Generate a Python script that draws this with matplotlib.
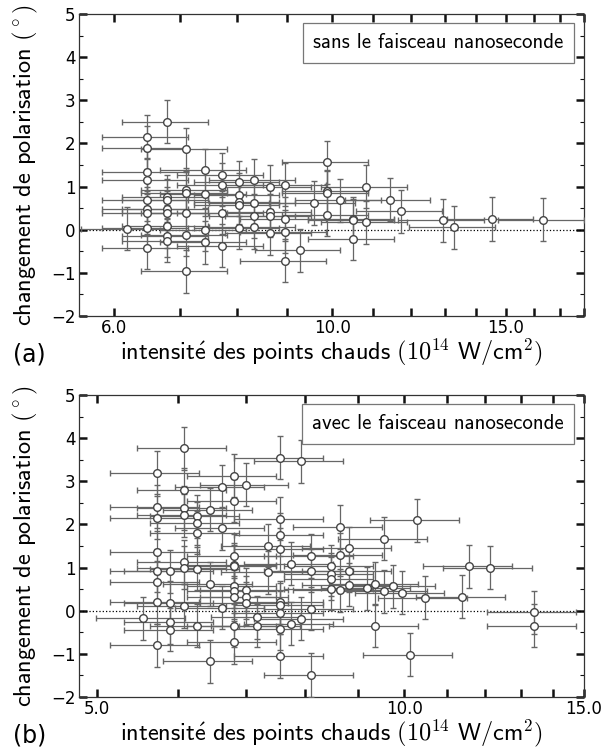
import matplotlib
matplotlib.use("Agg")
import matplotlib.pyplot as plt
from matplotlib.ticker import FixedLocator, FuncFormatter, MultipleLocator, NullLocator

plt.rcParams['font.family'] = ['DejaVu Sans']
plt.rcParams['mathtext.fontset'] = 'cm'

# --- panel (a): sans le faisceau nanoseconde ---
xa = [6.18, 6.48, 6.48, 6.48, 6.48, 6.48, 6.48, 6.48, 6.48, 6.48,
      6.79, 6.79, 6.79, 6.79, 6.79, 6.79, 6.79, 6.79,
      7.10, 7.10, 7.10, 7.10, 7.10, 7.10,
      7.42, 7.42, 7.42, 7.42,
      7.72, 7.72, 7.72, 7.72,
      8.03, 8.03, 8.03, 8.03, 8.03,
      8.33, 8.33, 8.33, 8.33,
      8.65, 8.65, 8.65, 8.65,
      8.95, 8.95, 8.95, 8.95,
      9.26, 9.58, 9.88, 9.88, 9.88, 9.88,
      10.18, 10.49, 10.49, 10.49, 10.82, 10.82,
      11.43, 11.74, 12.96, 13.28, 14.51, 16.36]
ya = [0.02, 2.15, 1.90, 1.33, 1.16, 0.70, 0.49, 0.39, 0.05, -0.42,
      2.50, 0.77, 0.68, 0.49, 0.39, 0.08, -0.14, -0.25,
      1.87, 0.93, 0.85, 0.39, -0.12, -0.96,
      1.38, 0.83, 0.00, -0.29,
      1.27, 1.04, 0.39, -0.37,
      1.10, 0.81, 0.64, 0.57, 0.05,
      1.15, 0.63, 0.32, 0.06,
      0.99, 0.41, 0.33, -0.08,
      1.04, 0.25, -0.05, -0.72,
      -0.48, 0.62, 1.56, 0.89, 0.86, 0.35,
      0.68, 0.25, 0.22, -0.21, 1.00, 0.17,
      0.70, 0.43, 0.22, 0.06, 0.25, 0.23]

# --- panel (b): avec le faisceau nanoseconde ---
xb = [5.54,
      5.72, 5.72, 5.72, 5.72, 5.72, 5.72, 5.72, 5.72,
      5.90, 5.90, 5.90, 5.90,
      6.08, 6.08, 6.08, 6.08, 6.08, 6.08, 6.08,
      6.26, 6.26, 6.26, 6.26, 6.26,
      6.45, 6.45, 6.45,
      6.63, 6.63, 6.63,
      6.81, 6.81, 6.81, 6.81, 6.81, 6.81, 6.81, 6.81, 6.81, 6.81,
      7.00, 7.00, 7.00, 7.00,
      7.18, 7.18,
      7.35, 7.35,
      7.56, 7.56, 7.56, 7.56, 7.56, 7.56, 7.56, 7.56, 7.56,
      7.74, 7.74,
      7.92, 7.92,
      8.10, 8.10, 8.10, 8.10,
      8.47, 8.47, 8.47, 8.47,
      8.65, 8.65, 8.65,
      8.83, 8.83, 8.83,
      9.20, 9.37, 9.37, 9.56, 9.56, 9.75, 9.94,
      10.12, 10.29, 10.48, 11.40, 11.58, 12.12, 13.40, 13.40]
yb = [-0.18,
      3.20, 2.41, 2.16, 1.35, 0.93, 0.66, 0.20, -0.80,
      0.91, 0.19, -0.27, -0.44,
      3.77, 2.81, 2.38, 2.21, 1.13, 1.00, 0.11,
      2.19, 2.03, 1.81, 0.97, -0.35,
      2.34, 0.62, -1.17,
      2.87, 1.91, 0.07,
      3.13, 2.55, 1.27, 1.07, 1.03, 0.57, 0.45, 0.31, -0.35, -0.73,
      2.92, 0.49, 0.31, 0.17,
      -0.15, -0.35,
      1.51, 0.89,
      3.55, 2.13, 1.76, 1.42, 0.20, 0.14, -0.05, -0.42, -1.05,
      1.09, -0.30,
      3.46, -0.19,
      1.27, 0.93, 0.05, -1.49,
      1.03, 0.84, 0.74, 0.51,
      1.94, 1.30, 0.47,
      1.45, 0.93, 0.60,
      0.52, 0.63, -0.35, 1.67, 0.45, 0.57, 0.42,
      -1.02, 2.10, 0.30, 0.32, 1.03, 1.00, -0.04, -0.35]

x_rel_err = 0.10   # relative uncertainty on intensity
y_err = 0.5        # uncertainty on polarisation change (deg)

xlabel = r'$\mathsf{intensit\acute{e}\ des\ points\ chauds}\ (10^{14}\ \mathsf{W/cm}^2)$'
ylabel = r'changement de polarisation $(^\circ)$'

panels = [
    dict(x=xa, y=ya, rect=[0.131, 0.5792, 0.8375, 0.4021], xlim=(5.53, 18.0),
         ticks=list(range(6, 19)), labeled=[6, 10, 15], tag='(a)', tag_y=0.5286,
         note='sans le faisceau nanoseconde'),
    dict(x=xb, y=yb, rect=[0.131, 0.0719, 0.8375, 0.4021], xlim=(4.80, 15.0),
         ticks=list(range(5, 16)), labeled=[5, 10, 15], tag='(b)', tag_y=0.020,
         note='avec le faisceau nanoseconde'),
]

fig = plt.figure(figsize=(6.03, 7.51), dpi=100)

for p in panels:
    ax = fig.add_axes(p['rect'])
    xerr = [v * x_rel_err for v in p['x']]
    ax.errorbar(p['x'], p['y'], xerr=xerr, yerr=y_err, fmt='o', ms=5.5,
                mfc='white', mec='#444444', mew=1.0, ecolor='#666666',
                elinewidth=0.9, capsize=2, capthick=0.9, zorder=3)
    ax.axhline(0, color='black', lw=0.9, ls=':', zorder=2)

    ax.set_xscale('log')
    ax.set_xlim(*p['xlim'])
    ax.set_ylim(-2, 5)
    ax.xaxis.set_major_locator(FixedLocator(p['ticks']))
    ax.xaxis.set_minor_locator(NullLocator())
    labeled = p['labeled']
    ax.xaxis.set_major_formatter(FuncFormatter(
        lambda v, pos, lab=labeled: f'{v:.1f}' if round(v) in lab else ''))
    ax.yaxis.set_major_locator(MultipleLocator(1))
    ax.yaxis.set_minor_locator(MultipleLocator(0.5))

    ax.tick_params(which='major', direction='in', length=6, width=1.8,
                   top=True, right=True, labelsize=12, pad=2.5, color='#111111')
    ax.tick_params(which='minor', direction='in', length=3, width=0.8,
                   top=True, right=True, color='#111111')
    for s in ax.spines.values():
        s.set_color('#333333')
        s.set_linewidth(0.9)

    ax.set_xlabel(xlabel, fontsize=17.5, labelpad=-1)
    ax.set_ylabel(ylabel, fontsize=17.5, labelpad=8,
                  family=['cmss10', 'DejaVu Sans'])
    ax.text(0.9596, 0.936, p['note'], transform=ax.transAxes, ha='right',
            va='top', fontsize=15, family=['cmss10', 'DejaVu Sans'],
            bbox=dict(boxstyle='square,pad=0.5', fc='white', ec='#777777',
                      lw=0.9))
    fig.text(0.021, p['tag_y'], p['tag'], fontsize=17, va='center')

fig.savefig('out.png', dpi=100)
